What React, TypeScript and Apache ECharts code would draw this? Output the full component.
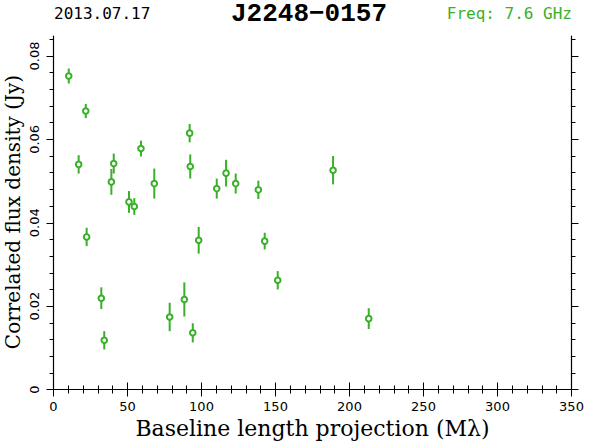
import React, { useEffect, useRef } from "react";
import * as echarts from "echarts";

const baselines = [10.3, 21.8, 17.0, 22.4, 32.3, 34.3, 39.1, 40.7, 51.0, 54.6, 59.1, 68.1, 78.5, 88.4, 92.0, 92.4, 94.1, 98.1, 110.3, 116.6, 123.1, 138.4, 142.7, 151.5, 188.9, 213.0];
const fluxes = [0.0752, 0.0668, 0.054, 0.0366, 0.0219, 0.0118, 0.0498, 0.0542, 0.045, 0.0439, 0.0578, 0.0494, 0.0174, 0.0216, 0.0615, 0.0535, 0.0136, 0.0358, 0.0482, 0.0519, 0.0494, 0.0479, 0.0356, 0.0262, 0.0526, 0.017];
const errors = [0.0018, 0.0017, 0.0022, 0.0022, 0.0026, 0.0022, 0.0031, 0.0024, 0.0026, 0.002, 0.0019, 0.0036, 0.0034, 0.0041, 0.0022, 0.0029, 0.0023, 0.0032, 0.0024, 0.0032, 0.0024, 0.0022, 0.002, 0.0022, 0.0034, 0.0025];

const yMajorTicks = [0, 0.02, 0.04, 0.06, 0.08];
const yMinorTicks: number[] = [];
for (let i = 0; i <= 21; i++) yMinorTicks.push(+(i * 0.004).toFixed(3));

const X_MIN = 0, X_MAX = 350, X_STEP = 50;
const Y_MIN = 0, Y_MAX = 0.0848;

const GREEN = "#38b028";
const LABEL_FONT = "DejaVu Sans";
const NAME_FONT = "DejaVu Serif";

export default function App() {
  const ref = useRef<HTMLDivElement>(null);
  useEffect(() => {
    document.body.style.margin = "0";
    const chart = echarts.init(ref.current!, null, { renderer: "svg" });
    const data = baselines.map((b, i) => [b, fluxes[i], errors[i]]);
    const axisLine = { show: true, lineStyle: { color: "#000", width: 1.2 } };
    const xBase = (pos: string, labels: boolean) => ({
      type: "value",
      position: pos,
      min: X_MIN,
      max: X_MAX,
      interval: X_STEP,
      axisLine,
      axisTick: { show: true, inside: false, length: 7, lineStyle: { color: "#000" } },
      minorTick: { show: true, splitNumber: 5, length: 4, lineStyle: { color: "#000" } },
      splitLine: { show: false },
      minorSplitLine: { show: false },
      axisLabel: { show: labels, margin: 10, fontFamily: LABEL_FONT, fontSize: 13, color: "#000" },
    });
    const yMajor = (pos: string, labels: boolean) => ({
      type: "value",
      position: pos,
      min: Y_MIN,
      max: Y_MAX,
      axisLine,
      axisTick: { show: true, inside: false, length: 7, customValues: yMajorTicks, lineStyle: { color: "#000" } },
      splitLine: { show: false },
      axisLabel: {
        show: labels,
        customValues: yMajorTicks,
        rotate: 90,
        margin: 13,
        fontFamily: LABEL_FONT,
        fontSize: 13,
        color: "#000",
        formatter: (v: number) => (v === 0 ? "0" : v.toFixed(2)),
      },
    });
    const yMinor = (pos: string) => ({
      type: "value",
      position: pos,
      min: Y_MIN,
      max: Y_MAX,
      axisLine: { show: false },
      axisTick: { show: true, inside: false, length: 4, customValues: yMinorTicks, lineStyle: { color: "#000" } },
      splitLine: { show: false },
      axisLabel: { show: false },
    });
    chart.setOption({
      animation: false,
      backgroundColor: "#fff",
      grid: { left: 53.5, right: 18.5, top: 36, bottom: 53.5, containLabel: false, outerBoundsMode: "none" },
      xAxis: [
        {
          ...xBase("bottom", true),
          name: "Baseline length projection (M\u03bb)",
          nameLocation: "middle",
          nameGap: 26,
          nameTextStyle: { fontFamily: NAME_FONT, fontSize: 22, color: "#000" },
        },
        xBase("top", false),
      ],
      yAxis: [
        yMajor("left", true),
        yMinor("left"),
        yMajor("right", false),
        yMinor("right"),
      ],
      graphic: [
        { type: "text", left: 54, top: 5, style: { text: "2013.07.17", font: "16px 'DejaVu Sans Mono'", fill: "#000" } },
        { type: "text", left: 231, top: 1, style: { text: "J2248\u22120157", font: "bold 26px 'Liberation Mono'", fill: "#000" } },
        { type: "text", right: 18, top: 5, style: { text: "Freq: 7.6 GHz", font: "16px 'DejaVu Sans Mono'", fill: GREEN } },
        {
          type: "text",
          x: 13,
          y: 212,
          rotation: Math.PI / 2,
          style: {
            text: "Correlated flux density (Jy)",
            font: `20px '${NAME_FONT}'`,
            fill: "#000",
            align: "center",
            verticalAlign: "middle",
          },
        },
      ],
      series: [
        {
          type: "custom",
          xAxisIndex: 0,
          yAxisIndex: 0,
          data,
          renderItem: (params: any, api: any) => {
            const x = api.value(0), y = api.value(1), e = api.value(2);
            const c = api.coord([x, y]);
            const t = api.coord([x, y + e]);
            const b = api.coord([x, y - e]);
            return {
              type: "group",
              children: [
                { type: "line", shape: { x1: c[0], y1: t[1], x2: c[0], y2: b[1] }, style: { stroke: GREEN, lineWidth: 2 } },
                { type: "circle", shape: { cx: c[0], cy: c[1], r: 2.8 }, style: { fill: "#fff", stroke: GREEN, lineWidth: 2 } },
              ],
            };
          },
        },
      ],
    });
    return () => chart.dispose();
  }, []);
  return <div ref={ref} style={{ position: "absolute", left: 0, top: 0, width: 590, height: 443 }} />;
}
